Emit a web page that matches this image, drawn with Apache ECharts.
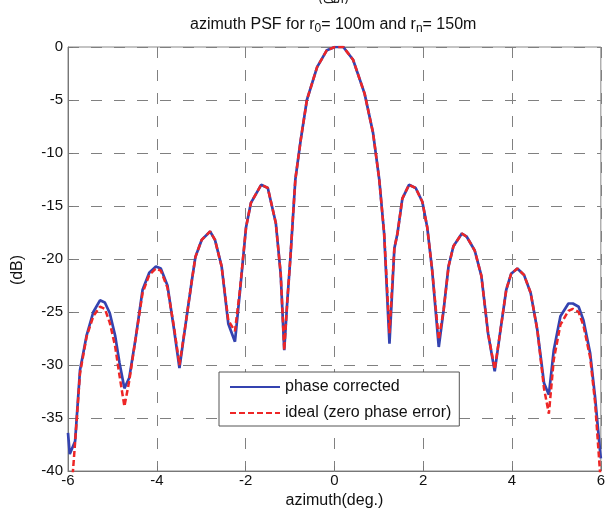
<!DOCTYPE html>
<html>
<head>
<meta charset="utf-8">
<script src="https://cdn.jsdelivr.net/npm/echarts@6/dist/echarts.min.js"></script>
<style>
html,body{margin:0;padding:0;background:#fff;}
#chart{width:608px;height:516px;}
</style>
</head>
<body>
<div id="chart"></div>
<script>
// ---- data ----
const titleTop = '(الف)';
const seriesNames = ['phase corrected', 'ideal (zero phase error)'];
const xTicks = [-6, -4, -2, 0, 2, 4, 6];
const yTicks = [0, -5, -10, -15, -20, -25, -30, -35, -40];

const azimuth = [
  -6.00, -5.96, -5.84, -5.73, -5.58, -5.43, -5.28, -5.17, -5.06, -4.94,
  -4.84, -4.73, -4.62, -4.47, -4.32, -4.17, -4.02, -3.91, -3.76, -3.61,
  -3.49, -3.36, -3.21, -3.13, -2.99, -2.80, -2.69, -2.54, -2.39, -2.24,
  -2.13, -1.99, -1.88, -1.65, -1.50, -1.32, -1.21, -1.13, -1.06, -0.99,
  -0.88, -0.76, -0.62, -0.39, -0.17, 0.01, 0.20, 0.42, 0.68, 0.87,
  1.01, 1.12, 1.24, 1.35, 1.42, 1.53, 1.68, 1.83, 1.98, 2.09,
  2.20, 2.35, 2.46, 2.57, 2.68, 2.87, 2.98, 3.16, 3.31, 3.46,
  3.61, 3.72, 3.87, 3.98, 4.12, 4.27, 4.42, 4.57, 4.72, 4.83,
  4.94, 5.09, 5.27, 5.37, 5.50, 5.61, 5.76, 5.87, 5.98, 6.00
];
const phaseCorrected = [
  -36.4, -38.4, -37.2, -30.5, -27.2, -25.0, -23.9, -24.1, -25.1, -27.2,
  -29.8, -32.2, -31.2, -27.3, -22.9, -21.3, -20.7, -20.9, -22.5, -26.7,
  -30.3, -26.4, -22.0, -19.8, -18.2, -17.4, -18.2, -20.7, -26.1, -27.8,
  -23.2, -17.0, -14.7, -13.0, -13.3, -16.6, -21.4, -28.6, -23.9, -19.8,
  -12.5, -8.8, -5.0, -1.9, -0.3, 0.0, 0.0, -1.2, -4.4, -8.1,
  -12.5, -17.6, -28.0, -19.0, -17.6, -14.3, -13.0, -13.3, -14.6, -17.0,
  -21.0, -28.3, -24.8, -20.7, -18.8, -17.6, -17.9, -19.2, -21.6, -27.0,
  -30.6, -27.3, -22.9, -21.4, -20.9, -21.5, -23.2, -26.7, -31.7, -32.8,
  -28.6, -25.4, -24.2, -24.2, -24.5, -25.8, -28.9, -33.0, -38.0, -38.8
];
const idealNoError = [
  -48.0, -44.0, -37.3, -30.8, -27.3, -25.4, -24.5, -24.7, -26.0, -28.2,
  -31.0, -33.9, -31.5, -27.3, -23.2, -21.5, -20.9, -21.1, -22.7, -26.5,
  -30.0, -26.4, -22.0, -19.8, -18.2, -17.4, -18.2, -20.7, -25.8, -26.8,
  -23.0, -17.0, -14.7, -13.0, -13.3, -16.6, -21.4, -28.6, -23.9, -19.8,
  -12.5, -8.8, -5.0, -1.9, -0.3, 0.0, 0.0, -1.2, -4.4, -8.1,
  -12.5, -17.6, -27.0, -19.0, -17.6, -14.3, -13.0, -13.3, -14.6, -17.0,
  -21.0, -27.6, -24.8, -20.7, -18.8, -17.6, -17.9, -19.2, -21.6, -27.0,
  -30.4, -27.3, -22.9, -21.4, -20.9, -21.5, -23.2, -26.7, -32.2, -34.6,
  -29.5, -26.2, -24.9, -24.7, -25.0, -26.3, -29.3, -33.5, -40.0, -41.0
];

// ---- chart ----
const pairs = (xs, ys) => xs.map((x, i) => [x, ys[i]]);
const FONT = '"Liberation Sans", Arial, sans-serif';
const chart = echarts.init(document.getElementById('chart'), null, {renderer: 'canvas'});

chart.setOption({
  animation: false,
  backgroundColor: '#fff',
  title: {
    text: '{a|azimuth PSF for r}{s|0}{a|= 100m and r}{s|n}{a|= 150m}',
    left: 190,
    top: 15,
    padding: 0,
    textStyle: {
      fontFamily: FONT, fontWeight: 'normal',
      rich: {
        a: {fontSize: 16, color: '#111', fontFamily: FONT, fontWeight: 'normal', lineHeight: 20, verticalAlign: 'middle'},
        s: {fontSize: 12, color: '#111', fontFamily: FONT, fontWeight: 'normal', lineHeight: 20, verticalAlign: 'bottom', padding: [7, 0, 0, 0]}
      }
    }
  },
  graphic: [{
    type: 'text',
    left: 318,
    top: -7,
    style: {text: titleTop, font: '13px "DejaVu Sans", "Noto Sans", sans-serif', fill: '#222'}
  }],
  grid: {
    left: 68, right: 0, top: 47, bottom: 45,
    show: true, borderColor: '#888', borderWidth: 1, backgroundColor: '#fff'
  },
  legend: {
    orient: 'vertical',
    left: 219, top: 372,
    backgroundColor: '#fff',
    borderColor: '#555', borderWidth: 1,
    padding: [7, 8, 5, 10],
    itemWidth: 50, itemHeight: 14, itemGap: 10,
    itemStyle: {opacity: 0},
    textStyle: {fontFamily: FONT, fontSize: 16, color: '#111'},
    data: seriesNames
  },
  xAxis: {
    type: 'value',
    min: xTicks[0], max: xTicks[xTicks.length - 1], interval: 2,
    name: 'azimuth(deg.)',
    nameLocation: 'middle', nameGap: 22,
    nameTextStyle: {fontFamily: FONT, fontSize: 16, color: '#111'},
    axisLine: {onZero: false, lineStyle: {color: '#777', width: 1}},
    axisTick: {inside: true, length: 5, lineStyle: {color: '#777'}},
    axisLabel: {fontFamily: FONT, fontSize: 15, color: '#111', margin: 2},
    splitLine: {show: true, lineStyle: {color: '#808080', type: [11, 12], width: 1}}
  },
  yAxis: {
    type: 'value',
    min: yTicks[yTicks.length - 1], max: yTicks[0], interval: 5,
    name: '(dB)',
    nameLocation: 'middle', nameGap: 42, nameRotate: 90,
    nameTextStyle: {fontFamily: FONT, fontSize: 16, color: '#111', padding: [0, 0, 0, -22]},
    axisLine: {show: true, onZero: false, lineStyle: {color: '#777', width: 1}},
    axisTick: {show: true, inside: true, length: 5, lineStyle: {color: '#777'}},
    axisLabel: {fontFamily: FONT, fontSize: 15, color: '#111', margin: 5},
    splitLine: {show: true, lineStyle: {color: '#808080', type: [11, 12], width: 1}}
  },
  series: [
    {
      name: seriesNames[0], type: 'line', data: pairs(azimuth, phaseCorrected),
      symbol: 'none', clip: true, z: 3,
      lineStyle: {color: '#3443b0', width: 2.7}, itemStyle: {color: '#3443b0'}
    },
    {
      name: seriesNames[1], type: 'line', data: pairs(azimuth, idealNoError),
      symbol: 'none', clip: true, z: 4,
      lineStyle: {color: '#ee2626', width: 2.5, type: [6, 3]}, itemStyle: {color: '#ee2626'}
    }
  ]
});
</script>
</body>
</html>
